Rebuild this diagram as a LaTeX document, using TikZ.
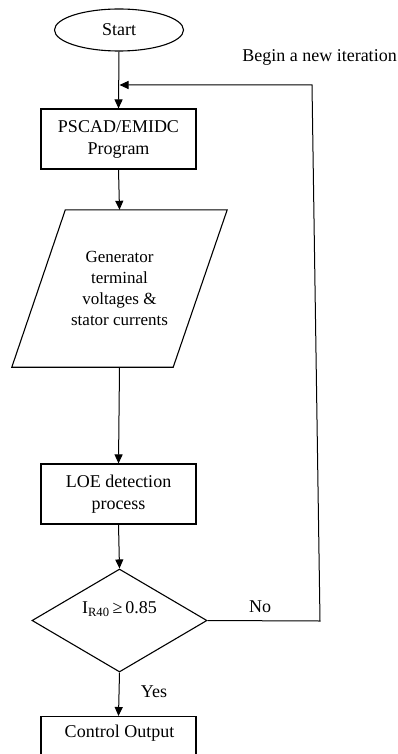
\documentclass[tikz,border=0pt]{standalone}
\usepackage{fontspec}
\setmainfont{Liberation Serif}
\usetikzlibrary{shapes.geometric,arrows.meta,calc}
\begin{document}
\begin{tikzpicture}[x=1pt,y=-1pt,
  every node/.style={font=\fontsize{18}{22}\selectfont},
  boxnode/.style={draw, line width=1.1pt, minimum width=155pt, minimum height=60pt, inner sep=0pt, align=center},
  conn/.style={line width=1pt, -{Triangle[length=9pt,width=8pt]}},
  plain/.style={line width=1pt}]
\useasboundingbox (0,0) rectangle (398,754);
\fill[white] (0,0) rectangle (398,754);
\node[draw, ellipse, line width=1.1pt, minimum width=129pt, minimum height=42pt, inner sep=0pt] (start) at (119,30) {Start};
\node[boxnode] (pscad) at (118.5,139) {PSCAD/EMIDC\\Program};
\node[minimum width=161pt, minimum height=157pt, inner sep=0pt, align=center, font=\fontsize{17}{21}\selectfont] (gen) at (119.5,288.5) {Generator\\terminal\\voltages \&\\stator currents};
\draw[line width=1.1pt] ($(gen.north west)+(26.5,0)$) -- ($(gen.north east)+(27,0)$) -- ($(gen.south east)+(-27,0)$) -- ($(gen.south west)+(-27,0)$) -- cycle;
\node[boxnode] (loe) at (118.5,494) {LOE detection\\process};
\node[draw, diamond, line width=1.1pt, minimum width=175pt, minimum height=103pt, inner sep=0pt] (dec) at (119.5,620.5) {};
\node (dect) at (119.5,609) {I\textsubscript{R40}\,≥\,0.85};
\node[draw, line width=1.1pt, minimum width=155pt, minimum height=60pt, inner sep=0pt, anchor=north] (ctrl) at (118.5,716) {};
\node (ctrlt) at (119.5,733) {Control Output};
\node (iter) at (319.5,57) {Begin a new iteration};
\node (no) at (260,607) {No};
\node (yes) at (154,692) {Yes};
\coordinate (c1) at (320,621);
\coordinate (c2) at (312,85);
\coordinate (j) at (119.5,85);
\draw[conn] (start.south) -- (pscad.north);
\draw[conn] (pscad.south) -- (gen.north);
\draw[conn] (gen.south) -- (loe.north);
\draw[conn] (loe.south) -- (dec.north);
\draw[conn] (dec.south) -- (ctrl.north);
\draw[conn] (dec.east) -- (c1) -- (c2) -- (j);
\end{tikzpicture}
\end{document}
